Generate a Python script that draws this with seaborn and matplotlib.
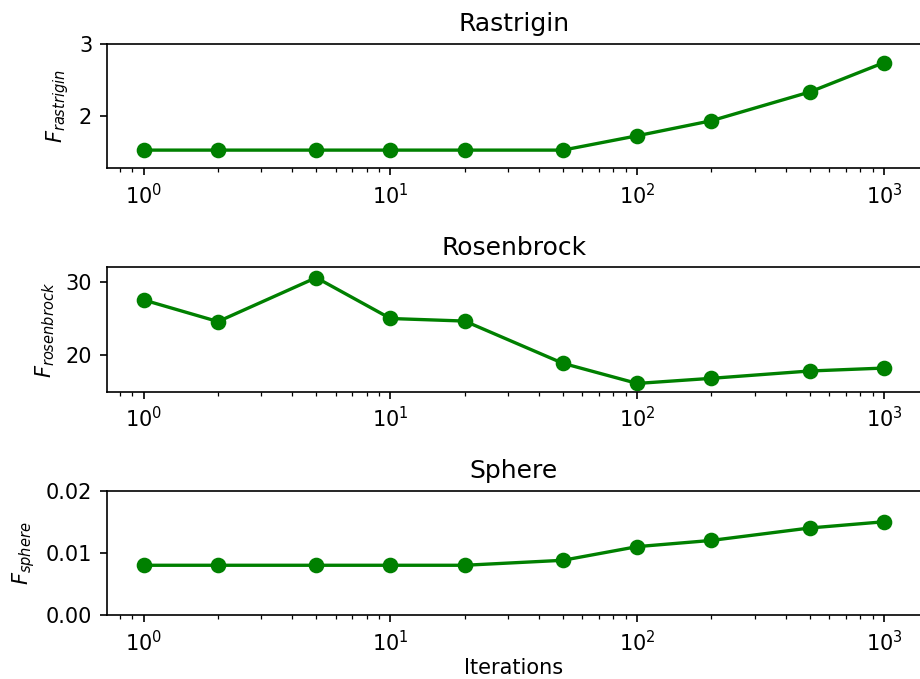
import matplotlib
matplotlib.use("Agg")
import matplotlib.pyplot as plt
import seaborn as sns
import numpy as np

# Iteration counts shared by all benchmark panels
iterations = [1, 2, 5, 10, 20, 50, 100, 200, 500, 1000]

# Best objective value reached for each benchmark function
f_rastrigin = [1.52, 1.52, 1.52, 1.52, 1.52, 1.52, 1.72, 1.93, 2.33, 2.74]
f_rosenbrock = [27.5, 24.55, 30.55, 24.97, 24.62, 18.85, 16.1, 16.8, 17.8, 18.2]
f_sphere = [0.008, 0.008, 0.008, 0.008, 0.008, 0.0088, 0.011, 0.012, 0.014, 0.015]

titles = ["Rastrigin", "Rosenbrock", "Sphere"]
ylabels = [r"$F_{rastrigin}$", r"$F_{rosenbrock}$", r"$F_{sphere}$"]
yticks = [[2, 3], [20, 30], [0.0, 0.01, 0.02]]
ylims = [(1.266, 3.0), (14.97, 31.96), (0.0, 0.02)]
series = [f_rastrigin, f_rosenbrock, f_sphere]

fig = plt.figure(figsize=(920 / 150, 679 / 150), dpi=150)
fig.patch.set_facecolor("white")

# axes rectangles in figure fractions: [left, bottom, width, height]
rects = [
    [0.1160, 0.7521, 0.8850, 0.1831],
    [0.1160, 0.4231, 0.8850, 0.1832],
    [0.1160, 0.0943, 0.8850, 0.1830],
]

for i, rect in enumerate(rects):
    ax = fig.add_axes(rect)
    sns.lineplot(
        x=iterations, y=series[i], ax=ax, color="green",
        marker="o", markersize=6.5, markeredgecolor="green",
        markeredgewidth=1.0, linewidth=1.6,
    )
    ax.set_xscale("log")
    ax.set_xlim(10 ** -0.15, 10 ** 3.15)
    ax.set_ylim(*ylims[i])
    ax.set_yticks(yticks[i])
    if i == 2:
        ax.set_yticklabels(["0.00", "0.01", "0.02"])
    ax.set_title(titles[i], fontsize=12)
    ax.set_ylabel(ylabels[i], fontsize=10)
    if i == 2:
        ax.set_xlabel("Iterations", fontsize=10, labelpad=1.5)
    else:
        ax.set_xlabel("")
    ax.tick_params(labelsize=10)
    ax.grid(False)

fig.savefig("out.png", dpi=150, facecolor="white")
